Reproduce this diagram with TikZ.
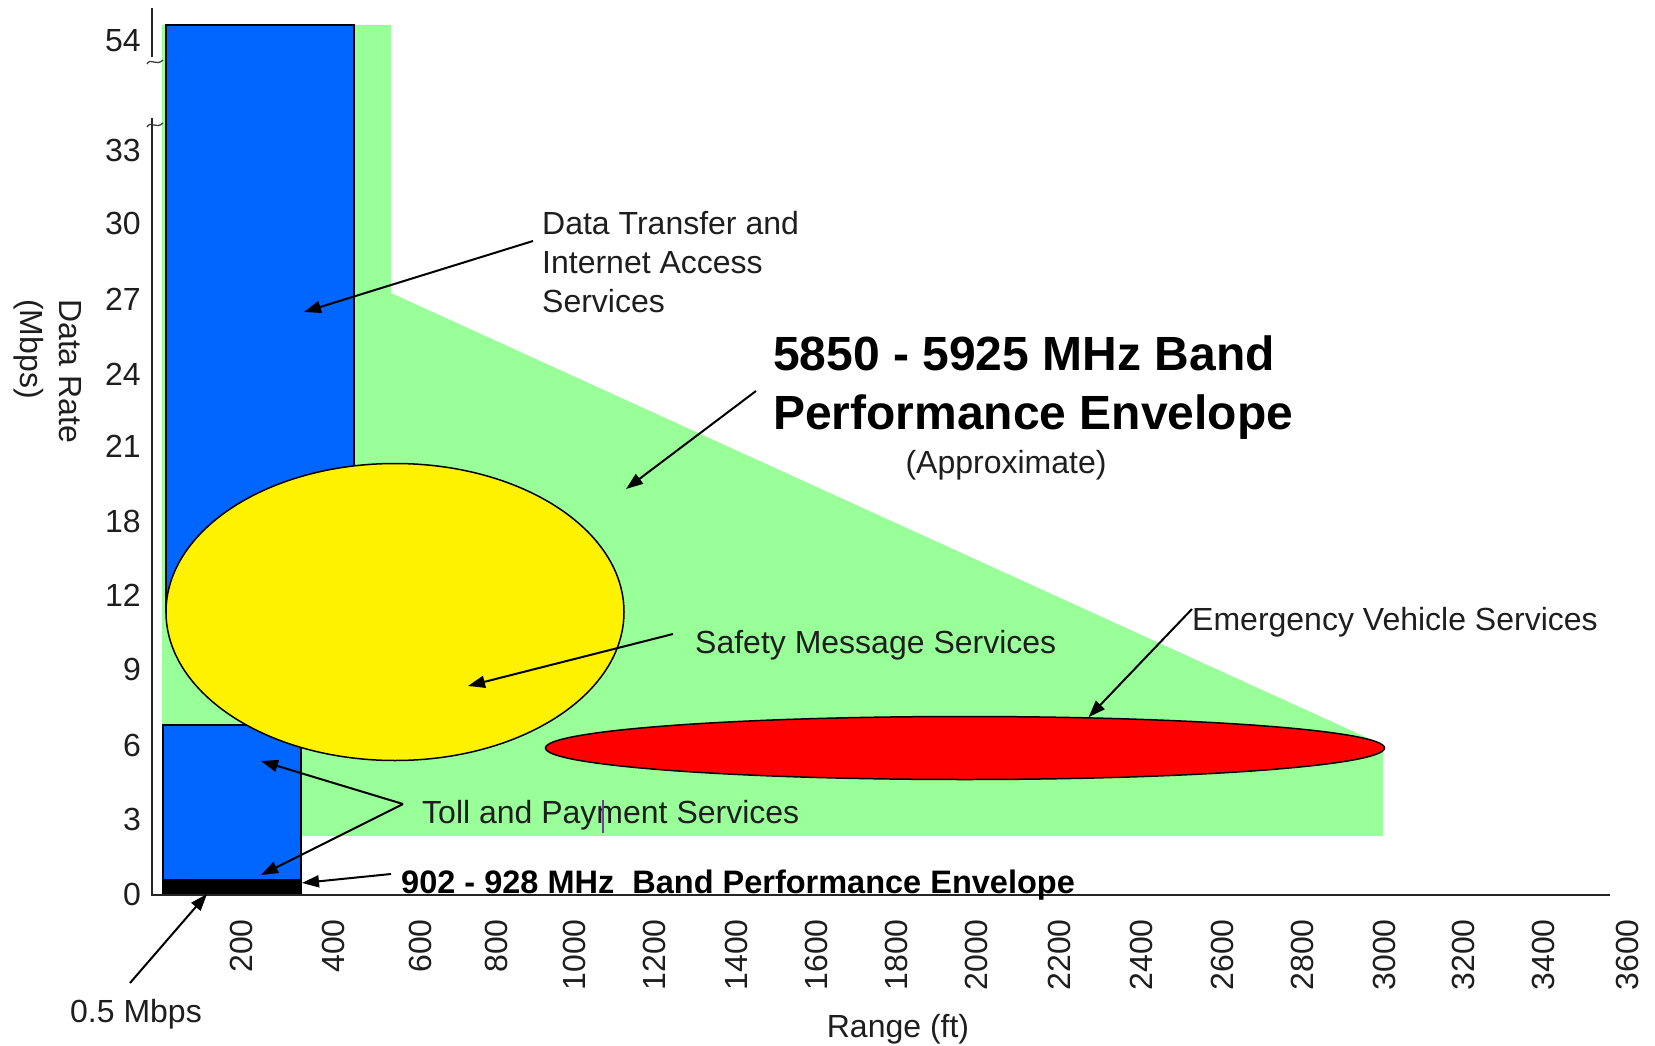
\documentclass[tikz,border=0pt]{standalone}
\usepackage{fontspec}
\setmainfont{Liberation Sans}
\usetikzlibrary{shapes.geometric,arrows.meta}
\definecolor{envgreen}{HTML}{99FF99}
\definecolor{svcblue}{HTML}{0066FF}
\definecolor{inkgray}{HTML}{1E1E1E}
\definecolor{cursorviolet}{HTML}{7040A0}
\begin{document}
\begin{tikzpicture}[x=1pt,y=-1pt,
  lbl/.style={font=\fontsize{32}{39}\selectfont, text=inkgray, inner sep=0pt},
  boldlbl/.style={font=\bfseries\fontsize{32.5}{39}\selectfont, text=black, inner sep=0pt},
  shapeline/.style={draw=black, line width=1.5pt},
  axisline/.style={draw=black!85, line width=2.2pt},
  conn/.style={draw=black, line width=2pt, -{Triangle[length=17pt,width=12pt]}},
  breakmark/.style={draw=black!80, line width=1.2pt}
]
\useasboundingbox (0,0) rectangle (1655,1046);

% 5.9 GHz performance envelope
\fill[envgreen] (162,25) -- (391,25) -- (391,293) -- (1383,745) -- (1383,836) -- (162,836) -- cycle;

% service areas
\path[shapeline, fill=svcblue] (166,25) rectangle (354,612);
\path[shapeline, fill=svcblue] (163,725) rectangle (301,895);
\fill[black] (163,879) rectangle (301,895);
\node[ellipse, shapeline, fill=yellow, minimum width=458pt, minimum height=297pt, inner sep=0pt] (safety) at (395,612) {};
\node[ellipse, shapeline, fill=red, minimum width=839pt, minimum height=63pt, inner sep=0pt] (emerg) at (965,748) {};

% axes with scale breaks
\draw[axisline] (152,8) -- (152,57);
\draw[axisline] (152,118) -- (152,895) -- (1610,895);
\draw[breakmark] (147,64) .. controls (151,57) and (156,67) .. (163,60);
\draw[breakmark] (147,127) .. controls (151,120) and (156,130) .. (163,123);

% tick labels
\foreach \v/\y in {54/40,33/150,30/223,27/299,24/374,21/446,18/521,12/595,9/669,6/745,3/819,0/894}
  \node[lbl, anchor=base east] (ytick\v) at (141,\y+11.5) {\v};
\foreach \v/\x in {200/241,400/333,600/420,800/496,1000/574,1200/654,1400/736,1600/816,1800/896,2000/976,2200/1059,2400/1141,2600/1222,2800/1302,3000/1384,3200/1463,3400/1543,3600/1627}
  \node[lbl, rotate=90, anchor=east] (xtick\v) at (\x,919) {\v};

% axis titles
\node[lbl, rotate=-90, anchor=west, align=left] (ylab) at (48,299) {Data Rate\\(Mbps)};
\node[lbl] (xlab) at (898,1029) {Range (ft)};

% labels
\node[lbl, anchor=west, align=left] (datalbl) at (542,262) {Data Transfer and\\Internet Access\\Services};
\node[font=\bfseries\fontsize{48}{59}\selectfont, text=black, anchor=west, align=left, inner sep=0pt] (band) at (773,388) {5850 - 5925 MHz Band\\Performance Envelope};
\node[lbl] (approx) at (1006,465) {(Approximate)};
\node[lbl, anchor=base west] (safelbl) at (695,653.5) {Safety Message Services};
\node[lbl, anchor=base west] (emlbl) at (1192,630.5) {Emergency Vehicle Services};
\node[lbl, anchor=base west] (tolllbl) at (422,823.5) {Toll and Payment Services};
\node[boldlbl, anchor=base west] (uhflbl) at (401,893.5) {902 - 928 MHz\ \ Band Performance Envelope};
\node[lbl, anchor=base west] (ratelbl) at (70,1022.5) {0.5 Mbps};

% text cursor mark inside the toll label
\draw[cursorviolet, line width=1.2pt] (603,800) -- (603,833);

% connector end points
\coordinate (dataTip) at (304,312);
\coordinate (bandTip) at (626,489);
\coordinate (safeTip) at (468,686);
\coordinate (tollTipA) at (261,761);
\coordinate (tollTipB) at (261,875);
\coordinate (uhfTip) at (302,883);
\coordinate (rateTip) at (207,894);
\coordinate (tollFork) at (403,804);

% connectors
\draw[conn] ([shift={(-9pt,21pt)}]datalbl.west) -- (dataTip);
\draw[conn] ([shift={(-17pt,-3pt)}]band.west) -- (bandTip);
\draw[conn] ([shift={(-22pt,19.5pt)}]safelbl.base west) -- (safeTip);
\draw[conn] ([yshift=21.5pt]emlbl.base west) -- (emerg.14);
\draw[conn] (tollFork) -- (tollTipA);
\draw[conn] (tollFork) -- (tollTipB);
\draw[conn] ([shift={(-10pt,19.5pt)}]uhflbl.base west) -- (uhfTip);
\draw[conn] ([shift={(60pt,39.5pt)}]ratelbl.base west) -- (rateTip);
\end{tikzpicture}
\end{document}
